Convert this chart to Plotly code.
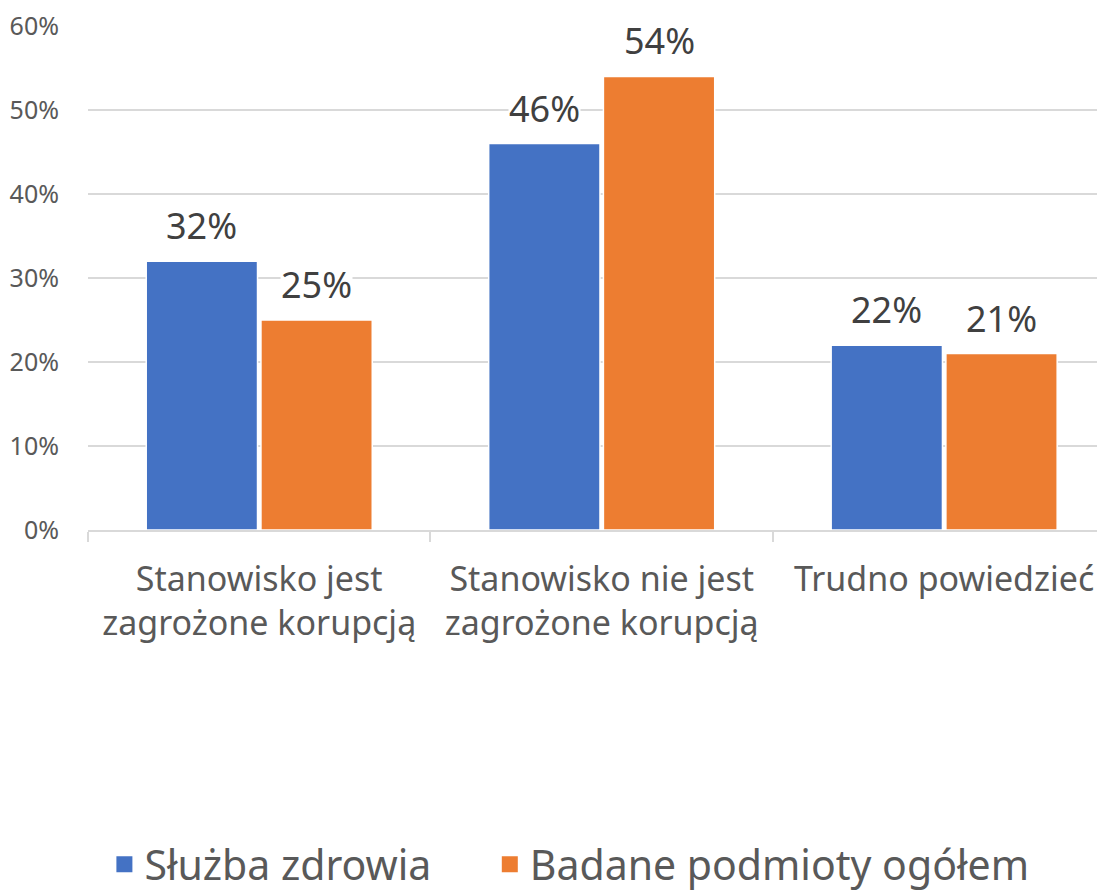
"""Grouped bar chart: corruption risk perception by position."""

import plotly.graph_objects as go

CATEGORIES = [
    "Stanowisko jest<br>zagrożone korupcją",
    "Stanowisko nie jest<br>zagrożone korupcją",
    "Trudno powiedzieć",
]
HEALTH_SERVICE = [0.32, 0.46, 0.22]
ALL_ENTITIES = [0.25, 0.54, 0.21]
Y_TICKS = [0, 0.1, 0.2, 0.3, 0.4, 0.5, 0.6]

_SERIES = (
    ("Służba zdrowia", HEALTH_SERVICE, "#4472C4", "legend", 0.016),
    ("Badane podmioty ogółem", ALL_ENTITIES, "#ED7D31", "legend2", 0.392),
)

_FONT = "Noto Sans, Open Sans, sans-serif"
_GRID = "#D9D9D9"
_LABEL_COLOR = "#404040"
_TICK_COLOR = "#595959"
_BAR_WIDTH = 0.325
_BAR_OFFSETS = (-0.33, 0.005)
_LEGEND_Y = -0.664

fig = go.Figure()

legends = {}
for (name, values, color, legend_id, legend_x), offset in zip(_SERIES, _BAR_OFFSETS):
    fig.add_trace(
        go.Bar(
            x=CATEGORIES,
            y=values,
            name=name,
            width=_BAR_WIDTH,
            offset=offset,
            marker={"color": color, "line": {"color": "white", "width": 1.5}},
            showlegend=False,
            hoverinfo="skip",
        )
    )
    # Excel-style data labels with an opaque background over gridlines
    for i, value in enumerate(values):
        fig.add_annotation(
            x=i + offset + _BAR_WIDTH / 2,
            y=value,
            text=f"{value:.0%}",
            showarrow=False,
            yanchor="bottom",
            yshift=10,
            bgcolor="white",
            borderpad=0,
            font={"size": 36, "color": _LABEL_COLOR, "family": _FONT},
        )
    # legend-only marker so the key square is larger than the bar swatch;
    # one legend per series to reproduce the wide gap between entries
    fig.add_trace(
        go.Scatter(
            x=[None],
            y=[None],
            mode="markers",
            name=name,
            legend=legend_id,
            marker={"symbol": "square", "size": 22, "color": color},
        )
    )
    legends[legend_id] = {
        "orientation": "h",
        "x": legend_x,
        "xanchor": "left",
        "y": _LEGEND_Y,
        "yanchor": "middle",
        "font": {"size": 41, "color": _TICK_COLOR},
        "itemsizing": "trace",
        "bgcolor": "rgba(0,0,0,0)",
    }

# the page body adds an 8px offset, so margins are set 8px smaller
fig.update_layout(
    width=1105,
    height=890,
    paper_bgcolor="white",
    plot_bgcolor="white",
    margin={"l": 80, "r": 0, "t": 18, "b": 366},
    font={"family": _FONT, "color": _TICK_COLOR},
    showlegend=True,
    **legends,
)

fig.update_xaxes(
    type="category",
    categoryorder="array",
    categoryarray=CATEGORIES,
    range=[-0.5, 2.493],
    automargin=False,
    showgrid=False,
    showline=True,
    linecolor=_GRID,
    linewidth=1.5,
    zeroline=False,
    ticks="outside",
    tickson="boundaries",
    ticklen=10,
    tickwidth=1.5,
    tickcolor=_GRID,
    ticklabelstandoff=18,
    tickfont={"size": 34, "color": _TICK_COLOR},
)

fig.update_yaxes(
    range=[0, 0.6],
    tickvals=Y_TICKS,
    tickformat=".0%",
    automargin=False,
    ticklabeloverflow="allow",
    showgrid=True,
    gridcolor=_GRID,
    gridwidth=1.5,
    zeroline=False,
    showline=False,
    ticks="",
    ticklabelstandoff=28,
    tickfont={"size": 25, "color": _TICK_COLOR},
)

fig.write_html("out.html")
